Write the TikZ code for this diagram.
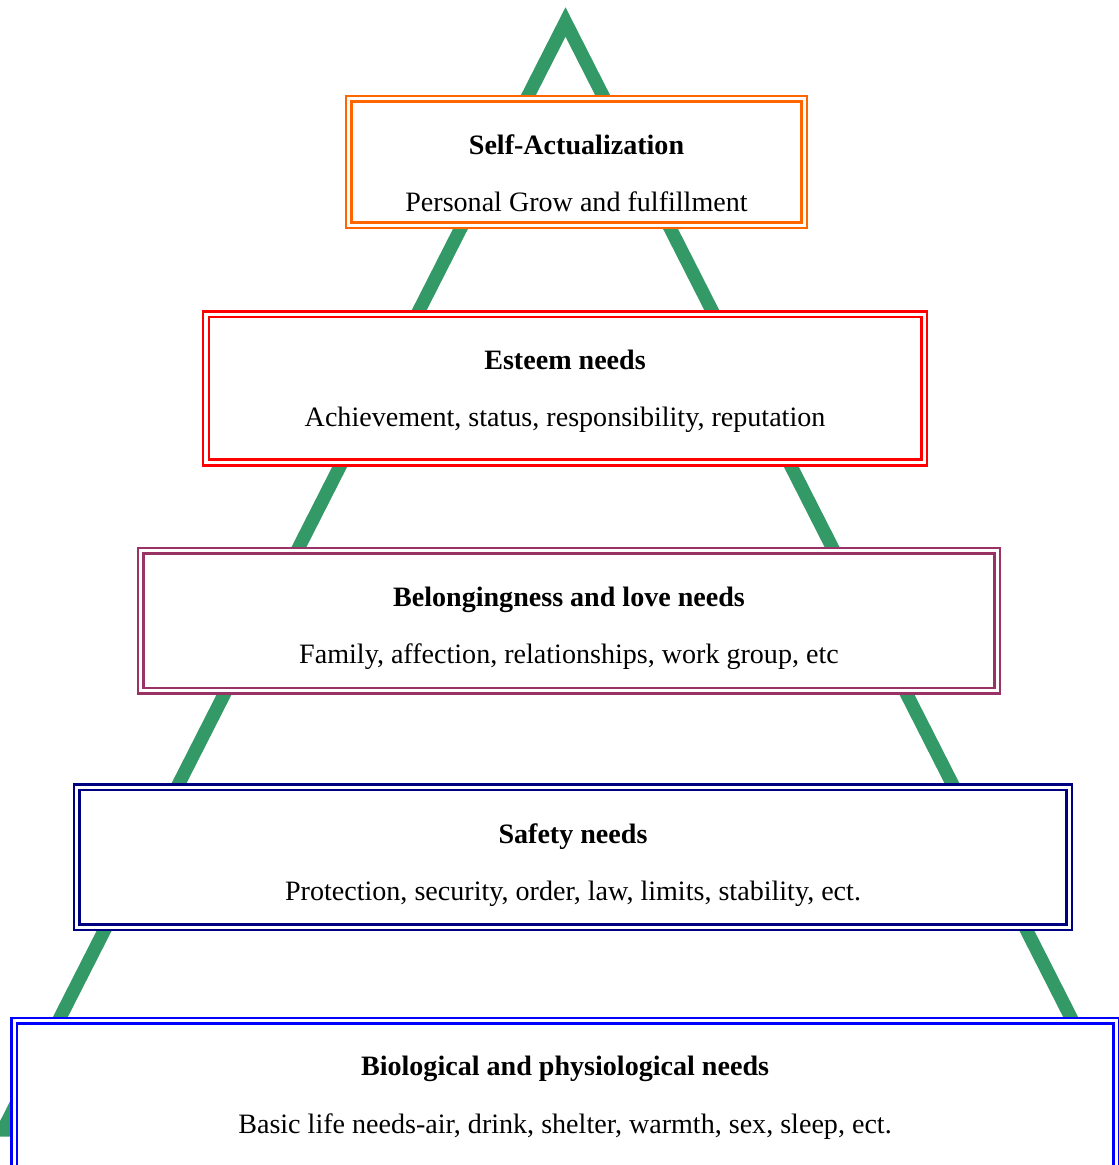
\documentclass[tikz,border=0pt]{standalone}
\usepackage{fontspec}
\setmainfont{Liberation Serif}
\usetikzlibrary{positioning}
\definecolor{pyrgreen}{HTML}{339966}
\definecolor{saorange}{HTML}{FF6600}
\definecolor{belongpurple}{HTML}{993366}
\begin{document}
\begin{tikzpicture}[x=0.4274pt,y=-0.4274pt,level/.style={draw,double,fill=white,line width=1.07pt,double distance=1.3pt,align=center,font=\fontsize{12}{14.4}\selectfont,inner sep=0pt},node distance=37.8pt] %
    \useasboundingbox (0,0) rectangle (1119,1165); %
    \clip (0,0) rectangle (1119,1165);
    % pyramid behind the boxes
    \coordinate (apex) at (565.5,22);
    \coordinate (left) at (3,1130);
    \coordinate (right) at (1128,1130);
    \draw[pyrgreen,line width=5.7pt,miter limit=20] (apex) -- (left) -- (right) -- cycle; %
    \node[level,draw=saorange,minimum width=194.5pt,minimum height=54.1pt] (selfact) at (576.5,162) {\rule{0pt}{18.4pt}\textbf{Self-Actualization}\\[10pt]Personal Grow and fulfillment} ; %
    \node[level,draw=red,minimum width=306.9pt,minimum height=63.3pt, below=37pt of selfact,xshift=-4.9pt] (esteem) {\rule{0pt}{10.7pt}\textbf{Esteem needs}\\[10pt]Achievement, status, responsibility, reputation} ; %
    \node[level,draw=belongpurple,minimum width=365.9pt,minimum height=59.8pt, below=36.7pt of esteem,xshift=1.7pt] (belong) {\rule{0pt}{14.9pt}\textbf{Belongingness and love needs}\\[10pt]Family, affection, relationships, work group, etc} ; %
    \node[level,draw=blue!50!black,minimum width=424pt,minimum height=59.8pt, below=40.2pt of belong,xshift=1.7pt] (safety) {\rule{0pt}{14.9pt}\textbf{Safety needs}\\[10pt]Protection, security, order, law, limits, stability, ect.};
    \node[level,draw=blue,minimum width=471pt,minimum height=66pt, below=38.8pt of safety,xshift=-3.4pt] (bio) {\rule{0pt}{8.3pt}\textbf{Biological and physiological needs}\\[10pt]Basic life needs-air, drink, shelter, warmth, sex, sleep, ect.};
  \end{tikzpicture}
\end{document}
